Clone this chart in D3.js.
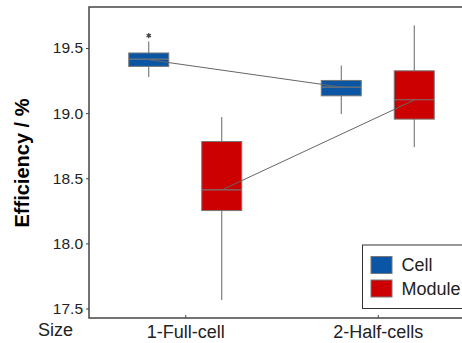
<!DOCTYPE html>
<html lang="en">
<head>
    <meta charset="UTF-8">
    <title>Efficiency box plot</title>
    <script src="https://d3js.org/d3.v7.min.js"></script>
    <style>
        body { margin: 0; background: #fff; }
        svg text { font-family: "Liberation Sans", Arial, sans-serif; fill: #222; }
    </style>
</head>
<body>
    <div id="chart"></div>
    <script type="text/javascript">
        // data
        const categories = ["1-Full-cell", "2-Half-cells"];
        const series = ["Cell", "Module"];
        const colors = ["#0b56a4", "#cc0000"];
        // [min, q1, median, q3, max] per category
        const cellStats = [[19.277, 19.359, 19.415, 19.462, 19.551], [18.993, 19.133, 19.200, 19.251, 19.366]];
        const moduleStats = [[17.565, 18.252, 18.411, 18.782, 18.970], [18.739, 18.954, 19.103, 19.325, 19.674]];
        const cellMeans = [19.41, 19.20];
        const moduleMeans = [18.41, 19.10];
        const cellOutliers = [[19.595], []];
        const moduleOutliers = [[], []];
        const yTicks = [17.5, 18.0, 18.5, 19.0, 19.5];

        const width = 462, height = 343;
        const margin = {top: 7, left: 89, bottom: 318, right: 474};

        const svg = d3.select("#chart").append("svg")
            .attr("width", width)
            .attr("height", height);

        const x = d3.scalePoint().domain(categories).range([margin.left, margin.right]).padding(0.5);
        const y = d3.scaleLinear().domain([17.427, 19.815]).range([margin.bottom, margin.top]);
        const dodge = d3.scalePoint().domain(series).range([-36.5, 36.5]);
        const boxW = 40;

        const stats = [cellStats, moduleStats];
        const means = [cellMeans, moduleMeans];
        const outliers = [cellOutliers, moduleOutliers];

        // boxes
        series.forEach(function(s, si) {
            const g = svg.append("g");
            categories.forEach(function(c, ci) {
                const d = stats[si][ci];
                const cx = x(c) + dodge(s);
                g.append("line")
                    .attr("x1", cx).attr("x2", cx)
                    .attr("y1", y(d[4])).attr("y2", y(d[0]))
                    .attr("stroke", "#666").attr("stroke-width", 1);
                g.append("rect")
                    .attr("x", cx - boxW / 2).attr("width", boxW)
                    .attr("y", y(d[3])).attr("height", y(d[1]) - y(d[3]))
                    .attr("fill", colors[si])
                    .attr("stroke", "#777").attr("stroke-width", 1);
                g.append("line")
                    .attr("x1", cx - boxW / 2).attr("x2", cx + boxW / 2)
                    .attr("y1", y(d[2])).attr("y2", y(d[2]))
                    .attr("stroke", "#777").attr("stroke-width", 1.2);
                outliers[si][ci].forEach(function(o) {
                    g.append("path")
                        .attr("d", d3.symbol(d3.symbolAsterisk, 18)())
                        .attr("transform", "translate(" + cx + "," + y(o) + ")")
                        .attr("stroke", "#444").attr("stroke-width", 1.2)
                        .attr("fill", "none");
                });
            });
        });

        // mean lines
        const meanLine = d3.line()
            .x(function(d) { return d[0]; })
            .y(function(d) { return y(d[1]); });
        series.forEach(function(s, si) {
            const pts = categories.map(function(c, ci) { return [x(c) + dodge(s), means[si][ci]]; });
            svg.append("path")
                .attr("d", meanLine(pts))
                .attr("fill", "none")
                .attr("stroke", "#666")
                .attr("stroke-width", 1);
        });

        // frame
        svg.append("rect")
            .attr("x", margin.left).attr("y", margin.top)
            .attr("width", margin.right - margin.left)
            .attr("height", margin.bottom - margin.top)
            .attr("fill", "none")
            .attr("stroke", "#444").attr("stroke-width", 1.5);

        // y axis
        const yAxis = svg.append("g")
            .attr("transform", "translate(" + margin.left + ",0)")
            .call(d3.axisLeft(y).tickValues(yTicks).tickFormat(d3.format(".1f")).tickSize(3).tickPadding(3));
        yAxis.select(".domain").remove();
        yAxis.selectAll(".tick line").attr("stroke", "#444");
        yAxis.selectAll("text").style("font-size", "15.5px").attr("fill", "#222");

        // x axis, ticks inward
        const xAxis = svg.append("g")
            .attr("transform", "translate(0," + margin.bottom + ")")
            .call(d3.axisBottom(x).tickSizeInner(-3).tickSizeOuter(0).tickPadding(7));
        xAxis.select(".domain").remove();
        xAxis.selectAll(".tick line").attr("stroke", "#444");
        xAxis.selectAll("text").style("font-size", "18px").attr("fill", "#222");

        svg.append("text")
            .attr("x", 38).attr("y", 336)
            .style("font-size", "18px")
            .text("Size");

        // y title
        svg.append("text")
            .attr("transform", "translate(29,163) rotate(-90)")
            .attr("text-anchor", "middle")
            .style("font-size", "20px")
            .style("font-weight", "bold")
            .style("fill", "#000")
            .text("Efficiency / %");

        // legend
        const legend = svg.append("g");
        legend.append("rect")
            .attr("x", 362.5).attr("y", 245)
            .attr("width", 120).attr("height", 63.5)
            .attr("fill", "#fff")
            .attr("stroke", "#333").attr("stroke-width", 1);
        series.forEach(function(s, si) {
            legend.append("rect")
                .attr("x", 371).attr("y", 256.5 + si * 23.5)
                .attr("width", 21).attr("height", 17)
                .attr("fill", colors[si])
                .attr("stroke", "#777").attr("stroke-width", 1);
            legend.append("text")
                .attr("x", 401.5).attr("y", 271 + si * 23.5)
                .style("font-size", "18px")
                .text(s);
        });
    </script>
</body>
</html>
